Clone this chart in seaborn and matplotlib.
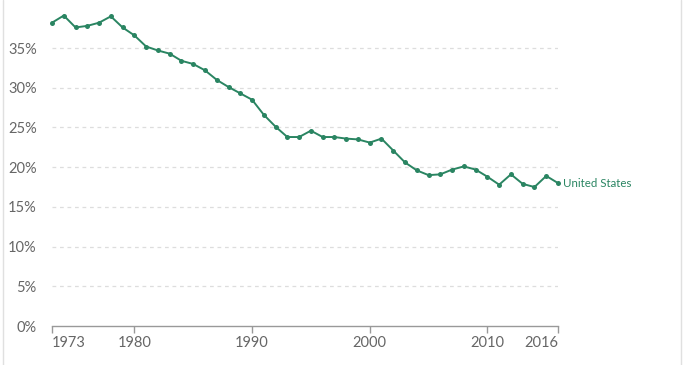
import matplotlib
matplotlib.use("Agg")
import matplotlib.pyplot as plt
import seaborn as sns
import pandas as pd
from matplotlib.lines import Line2D

years = list(range(1973, 2017))
values = [38.2, 39.1, 37.6, 37.8, 38.2, 39.0, 37.6, 36.6, 35.2, 34.7,
          34.3, 33.4, 33.0, 32.2, 31.0, 30.1, 29.3, 28.5, 26.6, 25.1,
          23.8, 23.8, 24.6, 23.8, 23.8, 23.6, 23.5, 23.1, 23.6, 22.1,
          20.6, 19.6, 19.0, 19.1, 19.7, 20.1, 19.7, 18.8, 17.8, 19.1,
          17.9, 17.5, 18.9, 18.0]
series_name = "United States"
xticks = [1973, 1980, 1990, 2000, 2010, 2016]
yticks = [0, 5, 10, 15, 20, 25, 30, 35]

df = pd.DataFrame({"year": years, "value": values})

sns.set_theme(style="white")
plt.rcParams['font.family'] = ['Lato', 'DejaVu Sans']

W, H = 684, 365
fig = plt.figure(figsize=(W / 100, H / 100), dpi=100)
ax = fig.add_axes([52 / W, (H - 326) / H, (558 - 52) / W, (326 - 8.4) / H])

green = "#2a8562"
sns.lineplot(data=df, x="year", y="value", ax=ax, color=green, linewidth=1.4,
             marker="o", markersize=3.6, markeredgewidth=0, clip_on=False)

ax.set_xlim(1973, 2016)
ax.set_ylim(0, 40)
ax.set_xticks(xticks)
ax.set_xticklabels([str(t) for t in xticks])
ax.set_yticks(yticks)
ax.set_yticklabels([f"{t}%" for t in yticks])
ax.set_xlabel("")
ax.set_ylabel("")

for t in yticks[1:]:
    ax.axhline(t, color="#dddddd", linewidth=0.9, linestyle=(0, (3, 3)), zorder=0)

for s in ["top", "right", "left"]:
    ax.spines[s].set_visible(False)
ax.spines["bottom"].set_color("#999999")
ax.spines["bottom"].set_linewidth(1.0)

ax.tick_params(axis="x", which="major", bottom=True, length=5, width=1,
               color="#999999", labelsize=10.5, labelcolor="#666666", pad=2)
ax.tick_params(axis="y", which="major", left=False, labelsize=10.5,
               labelcolor="#666666", pad=5)

xlabels = ax.get_xticklabels()
xlabels[0].set_ha("left")
xlabels[-1].set_ha("right")

ax.text(2016.4, values[-1], series_name, color=green, fontsize=8.3,
        va="center", ha="left", clip_on=False)

# page frame lines
fig.add_artist(Line2D([3 / W, 3 / W], [0, 1], color="#e0e0e0", linewidth=1))
fig.add_artist(Line2D([681 / W, 681 / W], [0, 1], color="#e0e0e0", linewidth=1))

fig.savefig("out.png", dpi=100)
